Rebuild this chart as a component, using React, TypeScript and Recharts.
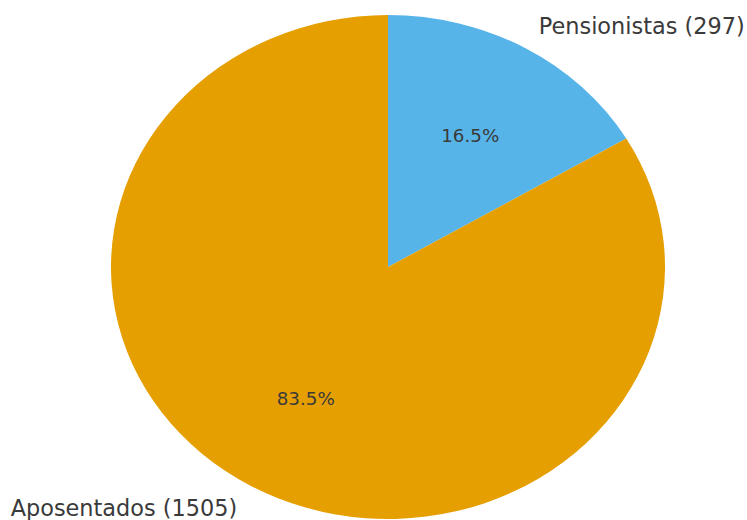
import React from "react";
import { PieChart, Pie, Cell } from "recharts";

const CATEGORIES = ["Pensionistas", "Aposentados"];
const COUNTS = [297, 1505];
const COLORS = ["#56B4E9", "#E69F00"];

const W = 747;
const H = 520;
const CX = 388;
const CY = 267;
const R = 252;
const SX = 277 / 252; // pie is drawn slightly stretched horizontally
const RAD = Math.PI / 180;

const data = CATEGORIES.map((name, i) => ({ name, value: COUNTS[i] }));

function renderLabel(props: any) {
  const { cx, cy, midAngle, outerRadius, percent, name, value } = props;
  const cos = Math.cos(-midAngle * RAD);
  const sin = Math.sin(-midAngle * RAD);
  const ox = cx + outerRadius * 1.1 * cos;
  const oy = cy + outerRadius * 1.1 * sin;
  const px = cx + outerRadius * 0.6 * cos;
  const py = cy + outerRadius * 0.6 * sin;
  return (
    <g>
      <g transform={`translate(${ox} ${oy}) scale(${1 / SX} 1)`}>
        <text
          x={0}
          y={0}
          textAnchor={cos >= 0 ? "start" : "end"}
          dominantBaseline="central"
          fontSize={22.4}
          fill="#3a3a3a"
          fontFamily="DejaVu Sans"
        >
          {`${name} (${value})`}
        </text>
      </g>
      <g transform={`translate(${px} ${py}) scale(${1 / SX} 1)`}>
        <text
          x={0}
          y={0}
          textAnchor="middle"
          dominantBaseline="central"
          fontSize={18.3}
          fill="#3a3a3a"
          fontFamily="DejaVu Sans"
        >
          {`${(percent * 100).toFixed(1)}%`}
        </text>
      </g>
    </g>
  );
}

export default function App() {
  return (
    <div style={{ position: "absolute", left: 0, top: 0, width: W, height: H, background: "#fff", overflow: "hidden" }}>
      <div style={{ width: W, height: H, transform: `scaleX(${SX})`, transformOrigin: `${CX}px ${CY}px` }}>
        <PieChart width={W} height={H} margin={{ top: 0, right: 0, bottom: 0, left: 0 }}>
          <Pie
            data={data}
            dataKey="value"
            nameKey="name"
            cx={CX}
            cy={CY}
            outerRadius={R}
            startAngle={90}
            endAngle={-270}
            stroke="none"
            label={renderLabel}
            labelLine={false}
            isAnimationActive={false}
          >
            {data.map((d, i) => (
              <Cell key={d.name} fill={COLORS[i]} />
            ))}
          </Pie>
        </PieChart>
      </div>
    </div>
  );
}
